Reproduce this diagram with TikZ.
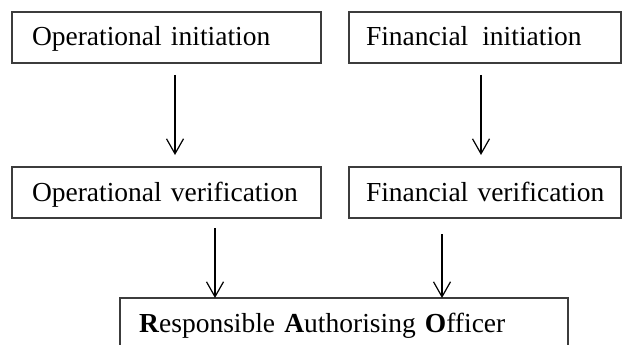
\documentclass[tikz,border=0pt]{standalone}
\usepackage{fontspec}
\setmainfont{Liberation Serif}
\usetikzlibrary{arrows.meta,positioning}
\definecolor{boxline}{HTML}{3c3c3c}

\begin{document}
\begin{tikzpicture}[x=1pt, y=-1pt, node distance=104pt and 28pt,
    stage/.style={draw=boxline, line width=1.3pt, outer sep=0pt,
      minimum height=51pt, text height=20pt, text depth=3pt, inner ysep=0pt,
      align=left, font=\fontsize{27.5}{30}\selectfont,
      execute at begin node={\hyphenpenalty=10000}},
    flow/.style={-{Straight Barb[length=15pt,width=17pt]}, line width=1.2pt}]
\useasboundingbox (0,0) rectangle (622,345);
% Top row: initiation
\node[stage, anchor=north west, inner xsep=20pt, text width=269pt] (opinit) at (12,12) {Operational~initiation};
\node[stage, inner xsep=17pt, text width=238pt, right=of opinit] (fininit) {Financial\hspace{14pt}initiation};
% Middle row: verification
\node[stage, inner xsep=20pt, text width=269pt, below=of opinit] (opver) {Operational~verification};
\node[stage, inner xsep=17pt, text width=238pt, below=of fininit] (finver) {\mbox{Financial verification}};
% Bottom: officer (cut off by the page)
\node[stage, anchor=north west, inner xsep=19pt, text width=410pt] (rao) at (120,298)
  {\textbf{R}esponsible \textbf{A}uthorising \textbf{O}fficer};
% Arrows
\draw[flow] ([xshift=163pt,yshift=-12pt]opinit.south west) -- ([xshift=163pt,yshift=12pt]opver.north west);
\draw[flow] ([xshift=132pt,yshift=-12pt]fininit.south west) -- ([xshift=132pt,yshift=12pt]finver.north west);
\draw[flow] ([xshift=203pt,yshift=-10pt]opver.south west) coordinate (opout) -- (opout |- rao.north);
\draw[flow] ([xshift=93pt,yshift=-16pt]finver.south west) coordinate (finout) -- (finout |- rao.north);
\end{tikzpicture}
\end{document}
